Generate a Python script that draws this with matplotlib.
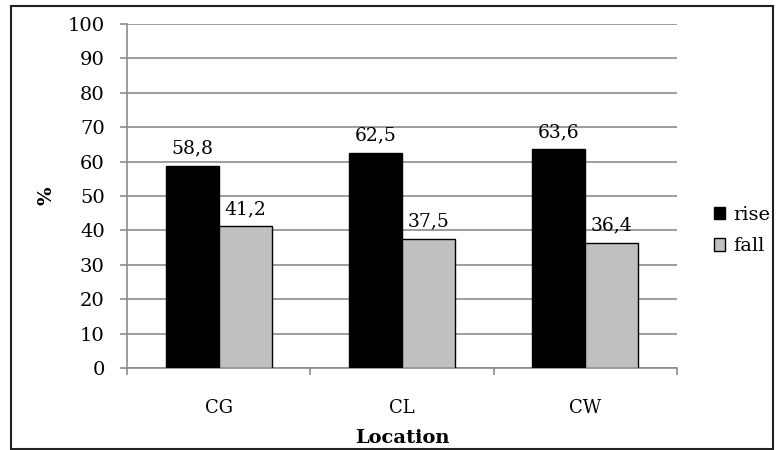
import matplotlib.pyplot as plt
import numpy as np
from matplotlib.patches import Rectangle

locations = ['CG', 'CL', 'CW']
rise = [58.8, 62.5, 63.6]
fall = [41.2, 37.5, 36.4]
rise_labels = ['58,8', '62,5', '63,6']
fall_labels = ['41,2', '37,5', '36,4']

plt.rcParams['font.family'] = ['DejaVu Serif']

fig = plt.figure(figsize=(7.76, 4.5), dpi=100)
ax = fig.add_axes([0.1637, 0.1822, 0.7087, 0.7645])

x = np.arange(len(locations))
w = 0.29
b1 = ax.bar(x - w / 2, rise, w, color='black', edgecolor='black', linewidth=1, label='rise', zorder=3)
b2 = ax.bar(x + w / 2, fall, w, color='#c0c0c0', edgecolor='black', linewidth=1, label='fall', zorder=3)

for bars, labels in ((b1, rise_labels), (b2, fall_labels)):
    for rect, lab in zip(bars, labels):
        ax.annotate(lab, (rect.get_x() + rect.get_width() / 2, rect.get_height()),
                    xytext=(0, 6), textcoords='offset points',
                    ha='center', va='bottom', fontsize=13.5)

ax.set_xlim(-0.5, 2.5)
ax.set_ylim(0, 100)
ax.set_yticks(np.arange(0, 101, 10))
ax.yaxis.grid(True, color='#8c8c8c', linewidth=1.2, zorder=0)
ax.tick_params(axis='y', labelsize=14, length=5, width=1.2, color='#8c8c8c', pad=11)

ax.set_xticks(x)
ax.set_xticklabels(locations, fontsize=13)
ax.set_xticks([-0.5, 0.5, 1.5, 2.5], minor=True)
ax.tick_params(axis='x', which='major', length=0, pad=22)
ax.tick_params(axis='x', which='minor', length=5, width=1.2, color='#8c8c8c')

for s in ['top', 'right']:
    ax.spines[s].set_visible(False)
for s in ['left', 'bottom']:
    ax.spines[s].set_color('#8c8c8c')
    ax.spines[s].set_linewidth(1.2)

ax.set_xlabel('Location', fontsize=14, fontweight='bold', labelpad=9)
ax.set_ylabel('%', fontsize=14, fontweight='bold', labelpad=9)

ax.legend(loc='center left', bbox_to_anchor=(1.035, 0.40), frameon=False,
          fontsize=14, handlelength=0.6, handleheight=0.6, handletextpad=0.4,
          labelspacing=0.7)

fig.patches.append(Rectangle((0.014, 0.003), 0.982, 0.984, transform=fig.transFigure,
                             fill=False, edgecolor='#222222', linewidth=1.5))

fig.savefig('out.png', dpi=100)
